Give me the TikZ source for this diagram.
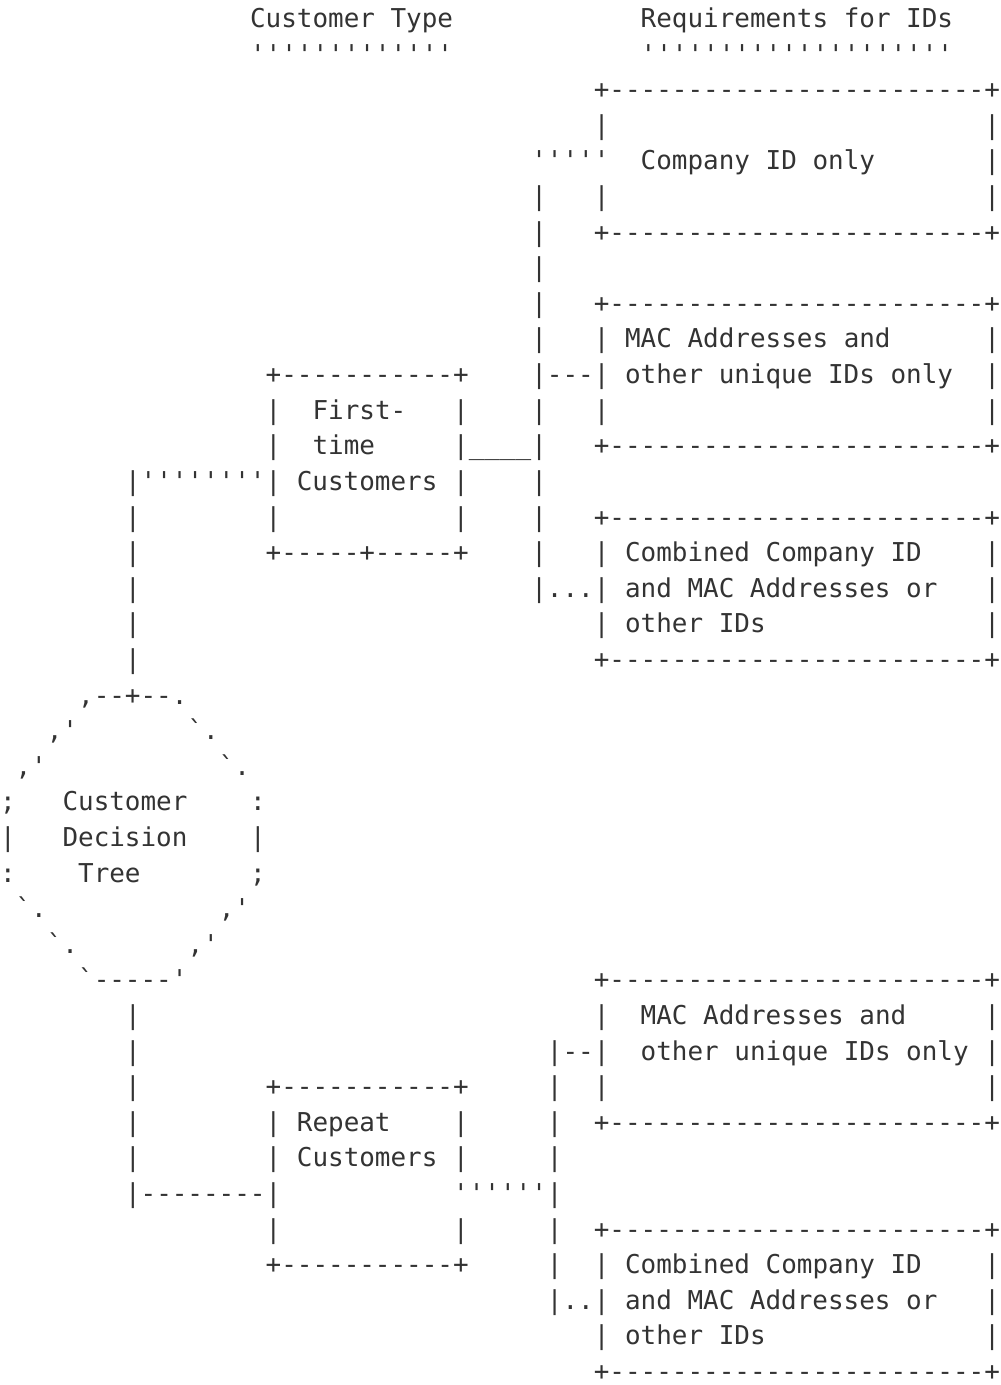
\documentclass[tikz,border=0pt]{standalone}
\usepackage{fontspec}
\setmonofont{DejaVu Sans Mono}[WordSpace={1,0,0}]
\definecolor{txtcol}{HTML}{333333}
\tikzset{
  asctext/.style={anchor=base west, inner sep=0pt, outer sep=0pt, text=txtcol,
    font=\ttfamily\fontsize{12.977pt}{15pt}\selectfont\frenchspacing}
}
\newcommand\asc[3]{\node[asctext] (r#1c#2) at ({#2*7.8125pt},{-13.8pt-#1*17.8pt}) {#3};}
\newcommand\bxl{+------------------------+}
\begin{document}
\begin{tikzpicture}
\useasboundingbox (0,0) rectangle (500pt,-692.5pt);
\fill[white] (0,0) rectangle (500pt,-692.5pt);
% row 0-1 headings
\asc{0}{16}{Customer Type}
\asc{0}{41}{Requirements for IDs}
\asc{1}{16}{'''''''''''''}
\asc{1}{41}{''''''''''''''''''''}
% upper right boxes
\asc{2}{38}{\bxl}
\asc{3}{38}{|}\asc{3}{63}{|}
\asc{4}{34}{'''''}\asc{4}{41}{Company ID only}\asc{4}{63}{|}
\asc{5}{34}{|}\asc{5}{38}{|}\asc{5}{63}{|}
\asc{6}{34}{|}\asc{6}{38}{\bxl}
\asc{7}{34}{|}
\asc{8}{34}{|}\asc{8}{38}{\bxl}
\asc{9}{34}{|}\asc{9}{38}{| MAC Addresses and}\asc{9}{63}{|}
\asc{10}{17}{+-----------+}\asc{10}{34}{|---| other unique IDs only}\asc{10}{63}{|}
\asc{11}{17}{|}\asc{11}{20}{First-}\asc{11}{29}{|}\asc{11}{34}{|}\asc{11}{38}{|}\asc{11}{63}{|}
\asc{12}{17}{|}\asc{12}{20}{time}\asc{12}{29}{|\textunderscore\textunderscore\textunderscore\textunderscore|}\asc{12}{38}{\bxl}
\asc{13}{8}{|''''''''| Customers |}\asc{13}{34}{|}
\asc{14}{8}{|}\asc{14}{17}{|}\asc{14}{29}{|}\asc{14}{34}{|}\asc{14}{38}{\bxl}
\asc{15}{8}{|}\asc{15}{17}{+-----+-----+}\asc{15}{34}{|}\asc{15}{38}{| Combined Company ID}\asc{15}{63}{|}
\asc{16}{8}{|}\asc{16}{34}{|...| and MAC Addresses or}\asc{16}{63}{|}
\asc{17}{8}{|}\asc{17}{38}{| other IDs}\asc{17}{63}{|}
\asc{18}{8}{|}\asc{18}{38}{\bxl}
% decision tree ellipse
\asc{19}{5}{,--+--.}
\asc{20}{3}{,'}\asc{20}{12}{`.}
\asc{21}{1}{,'}\asc{21}{14}{`.}
\asc{22}{0}{;}\asc{22}{4}{Customer}\asc{22}{16}{:}
\asc{23}{0}{|}\asc{23}{4}{Decision}\asc{23}{16}{|}
\asc{24}{0}{:}\asc{24}{5}{Tree}\asc{24}{16}{;}
\asc{25}{1}{`.}\asc{25}{14}{,'}
\asc{26}{3}{`.}\asc{26}{12}{,'}
\asc{27}{5}{`-----'}\asc{27}{38}{\bxl}
% lower part
\asc{28}{8}{|}\asc{28}{38}{|}\asc{28}{41}{MAC Addresses and}\asc{28}{63}{|}
\asc{29}{8}{|}\asc{29}{35}{|--|}\asc{29}{41}{other unique IDs only |}
\asc{30}{8}{|}\asc{30}{17}{+-----------+}\asc{30}{35}{|}\asc{30}{38}{|}\asc{30}{63}{|}
\asc{31}{8}{|}\asc{31}{17}{| Repeat}\asc{31}{29}{|}\asc{31}{35}{|}\asc{31}{38}{\bxl}
\asc{32}{8}{|}\asc{32}{17}{| Customers |}\asc{32}{35}{|}
\asc{33}{8}{|--------|}\asc{33}{29}{''''''|}
\asc{34}{17}{|}\asc{34}{29}{|}\asc{34}{35}{|}\asc{34}{38}{\bxl}
\asc{35}{17}{+-----------+}\asc{35}{35}{|}\asc{35}{38}{| Combined Company ID}\asc{35}{63}{|}
\asc{36}{35}{|..| and MAC Addresses or}\asc{36}{63}{|}
\asc{37}{38}{| other IDs}\asc{37}{63}{|}
\asc{38}{38}{\bxl}
\end{tikzpicture}
\end{document}
